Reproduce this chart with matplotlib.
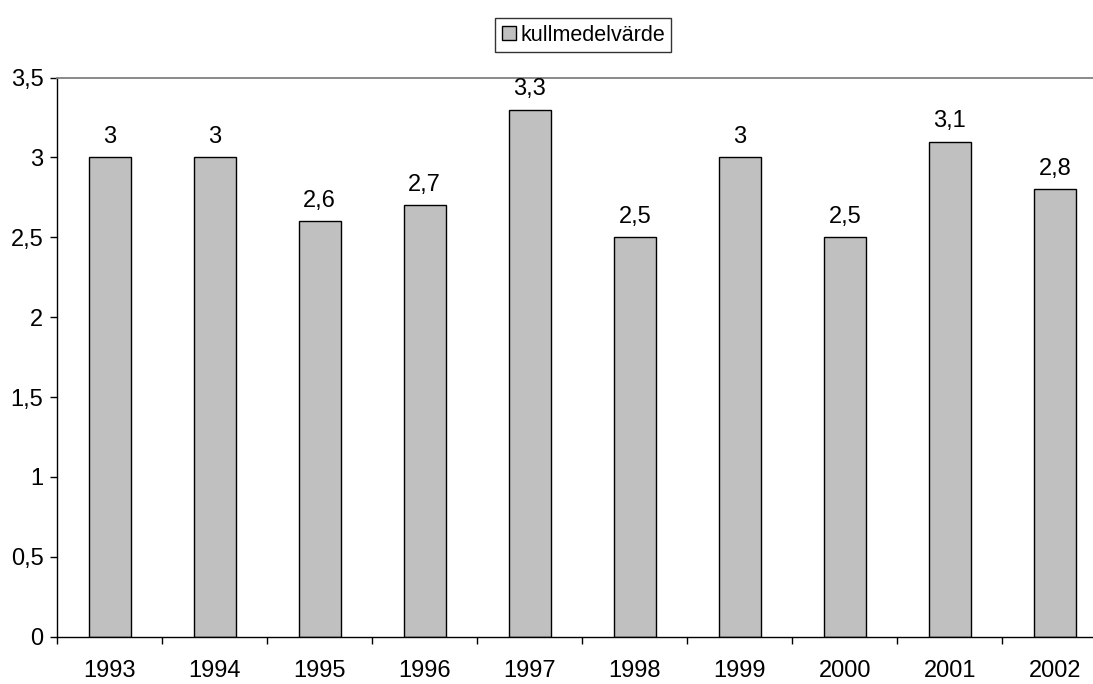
import numpy as np
from matplotlib import pyplot as plt
from matplotlib.ticker import FuncFormatter, FixedLocator

# Data
years = ['1993', '1994', '1995', '1996', '1997', '1998', '1999', '2000', '2001', '2002']
kullmedelvarde = [3.0, 3.0, 2.6, 2.7, 3.3, 2.5, 3.0, 2.5, 3.1, 2.8]
serie_namn = 'kullmedelvärde'

plt.rcParams['font.family'] = ['Liberation Sans', 'DejaVu Sans']

fig = plt.figure(figsize=(10.93, 6.84), dpi=100)
ax = fig.add_axes([0.0524, 0.0692, 0.9607, 0.8173])

x = np.arange(len(years))
bars = ax.bar(x, kullmedelvarde, width=0.40, color='#C0C0C0',
              edgecolor='black', linewidth=1.0, label=serie_namn)

def komma(v):
    s = ('%g' % v)
    return s.replace('.', ',')

# Etiketter ovanför staplarna
for xi, v in zip(x, kullmedelvarde):
    ax.annotate(komma(v), (xi, v), xytext=(0, 10.5), textcoords='offset points',
                ha='center', va='baseline', fontsize=17)

ax.set_xlim(-0.5, len(years) - 0.5)
ax.set_ylim(0, 3.5)

ax.set_yticks(np.arange(0, 3.51, 0.5))
ax.yaxis.set_major_formatter(FuncFormatter(lambda v, p: komma(v)))
ax.set_xticks(x)
ax.set_xticklabels(years)
ax.xaxis.set_minor_locator(FixedLocator(np.arange(-0.5, len(years), 1.0)))

ax.tick_params(axis='x', which='major', length=0, pad=17, labelsize=17)
ax.tick_params(axis='x', which='minor', length=5, width=1.0, direction='out')
ax.tick_params(axis='y', length=5, width=1.0, direction='out', pad=5, labelsize=17)

ax.spines['right'].set_visible(False)
ax.spines['top'].set_color('#808080')
ax.spines['top'].set_linewidth(1.3)
for s in ['left', 'bottom']:
    ax.spines[s].set_color('black')
    ax.spines[s].set_linewidth(1.0)

leg = ax.legend(loc='center', bbox_to_anchor=(0.5338, 0.9488), bbox_transform=fig.transFigure,
                fontsize=15.5, frameon=True, fancybox=False, shadow=False,
                handlelength=0.65, handleheight=0.65, handletextpad=0.2,
                borderpad=0.3, borderaxespad=0)
leg.get_frame().set_edgecolor('black')
leg.get_frame().set_linewidth(1.0)

plt.savefig('out.png', dpi=100)
